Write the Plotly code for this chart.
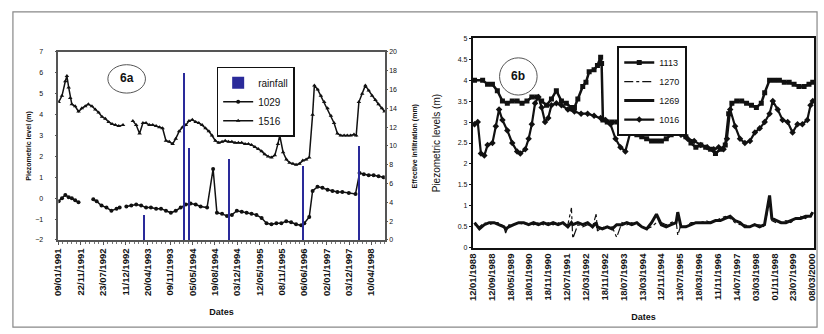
import plotly.graph_objects as go

# ---------------- Panel 6a data ----------------
a_ticks = ["09/01/1991", "22/11/1991", "23/07/1992", "11/12/1992", "20/04/1993",
           "09/11/1993", "05/05/1994", "19/08/1994", "03/12/1994", "12/05/1995",
           "08/11/1995", "06/06/1996", "02/01/1997", "03/12/1997", "10/04/1998"]

a_1029_x = [0.1, 1.6, 3.1, 4.6, 6.0, 7.5, 9.0, 12.0, 15.6, 17.1, 19.3, 21.5, 23.7, 26.0, 27.4,
            29.0, 30.4, 32.6, 34.8, 37.0, 39.2, 41.4, 43.7, 45.9, 48.1, 50.3, 52.5, 54.7, 57.0,
            59.1, 61.4, 63.6, 66.5, 69.2, 70.9, 73.2, 75.4, 77.6, 79.8, 82.0, 84.2, 86.4, 88.6,
            90.9, 93.1, 95.3, 97.5, 99.7, 101.9, 104.1, 106.3, 108.6, 110.0, 112.2, 113.7, 115.9,
            118.1, 120.4, 122.6, 124.8, 127.0, 129.9, 132.9, 134.7, 136.6, 138.8, 141.0, 143.2, 145.4]
a_1029_y = [-0.15, 0.0, 0.15, 0.05, 0.0, -0.1, -0.2, None, -0.05, -0.15, -0.35, -0.45, -0.6, -0.5, -0.45,
            None, -0.4, -0.35, -0.3, -0.35, -0.45, -0.45, -0.5, -0.5, -0.6, -0.7, -0.6, -0.45, -0.3,
            -0.25, -0.3, -0.4, -0.45, 1.4, -0.7, -0.75, -0.85, -0.8, -0.6, -0.65, -0.7, -0.75, -0.8,
            -0.95, -1.2, -1.25, -1.2, -1.2, -1.1, -1.15, -1.25, -1.3, -1.2, -0.9, 0.35, 0.55,
            0.5, 0.4, 0.35, 0.3, 0.3, 0.25, 0.2, 1.2, 1.15, 1.1, 1.1, 1.05, 1.0]

a_1516_x = [0.1, 1.6, 3.1, 3.8, 4.6, 5.3, 6.0, 7.5, 9.0, 10.5, 12.0, 13.4, 15.0, 16.5, 18.0, 19.5,
            21.0, 22.5, 24.0, 25.5, 27.0, 28.9, 31.0, 33.3, 34.8, 36.3, 37.8, 39.2, 40.7, 42.2,
            43.7, 45.2, 46.6, 48.1, 49.6, 51.1, 52.5, 54.0, 55.5, 57.0, 58.4, 59.9, 61.4, 62.8,
            64.3, 65.8, 67.3, 68.7, 70.2, 71.7, 73.2, 74.6, 76.1, 77.6, 79.0, 80.5, 82.0, 83.5,
            85.0, 86.4, 87.9, 89.4, 90.9, 92.3, 93.8, 95.3, 96.8, 98.2, 99.0, 100.5, 102.0, 103.4,
            104.9, 106.3, 107.8, 109.3, 110.8, 112.2, 113.7, 114.5, 116.0, 117.4, 118.9, 120.4,
            121.9, 123.3, 124.8, 126.3, 127.8, 129.2, 130.7, 132.2, 133.2, 134.4, 135.9, 137.3,
            138.8, 140.3, 141.8, 143.2, 144.7, 145.9]
a_1516_y = [4.6, 4.9, 5.6, 5.85, 5.3, 4.8, 4.5, 4.4, 4.15, 4.3, 4.4, 4.5, 4.4, 4.25, 4.1, 3.9,
            3.8, 3.65, 3.55, 3.5, 3.45, 3.5, None, 3.7, 3.5, 3.1, 3.6, 3.6, 3.5, 3.5,
            3.45, 3.4, 3.35, 2.75, 2.7, 2.6, 2.85, 3.2, 3.4, 3.5, 3.7, 3.75, 3.65, 3.6,
            3.5, 3.35, 3.2, 3.0, 2.75, 2.65, 2.7, 2.75, 2.7, 2.7, 2.65, 2.65, 2.65, 2.6,
            2.6, 2.55, 2.45, 2.35, 2.25, 2.1, 2.0, 1.95, 2.05, 2.6, 3.0, 2.2, 1.85, 1.7,
            1.65, 1.6, 1.65, 1.8, 1.85, 1.95, 4.0, 5.4, 5.2, 4.9, 4.6, 4.3,
            3.95, 3.6, 3.1, 3.0, 3.0, 3.0, 3.0, 3.05, 3.0, 4.6, 5.0, 5.4,
            5.15, 4.9, 4.7, 4.5, 4.3, 4.15]

rain_x = [38.5, 56.2, 58.7, 76.5, 109.7, 134.8]
rain_y = [2.7, 17.8, 9.8, 8.6, 7.9, 10.0]

# ---------------- Panel 6b data ----------------
b_ticks = ["12/01/1988", "12/09/1988", "18/05/1989", "18/01/1990", "18/11/1990",
           "12/07/1991", "12/03/1992", "18/11/1992", "18/07/1993", "13/03/1994",
           "12/11/1994", "13/07/1995", "18/03/1996", "11/11/1996", "14/07/1997",
           "03/03/1998", "01/11/1998", "23/07/1999", "08/03/2000"]

b_1113_x = [0.9, 5.2, 7.8, 10.4, 13.0, 15.7, 18.3, 20.9, 23.5, 26.1, 28.7, 31.3, 33.9, 36.5,
            39.1, 41.7, 44.3, 47.0, 49.6, 52.2, 53.9, 55.7, 58.3, 60.0, 61.7, 64.3, 66.1, 67.8,
            68.3, 69.0, 71.3, 73.9, 76.5, 79.1, 81.7, 84.3, 87.0, 89.6, 92.2, 94.8, 97.4, 100.0,
            102.6, 105.2, 107.8, 110.4, 113.0, 115.7, 118.3, 120.9, 123.5, 126.1, 128.7, 131.3,
            133.9, 135.7, 137.4, 140.0, 142.6, 145.2, 147.8, 150.4, 153.0, 154.8, 157.4, 160.0,
            162.6, 165.2, 167.8, 170.4, 173.0, 175.7, 178.3, 180.3]
b_1113_y = [4.0, 4.0, 3.9, 3.9, 3.75, 3.5, 3.45, 3.5, 3.5, 3.45, 3.5, 3.6, 3.6, 3.5,
            3.4, 3.55, 3.75, 3.5, 3.45, 3.35, 3.35, 3.55, 3.85, 3.95, 4.2, 4.25, 4.35, 4.55,
            4.4, 3.05, 3.0, 3.0, 3.0, 3.0, 2.8, 2.75, 2.7, 2.65, 2.6, 2.55, 2.55, 2.55,
            2.6, 2.7, 2.9, 2.85, 2.65, 2.5, 2.4, 2.45, 2.4, 2.35, 2.25, 2.35,
            2.45, 3.2, 3.45, 3.5, 3.5, 3.45, 3.4, 3.35, 3.45, 3.7, 4.0, 4.0,
            4.0, 3.95, 3.95, 3.9, 3.85, 3.85, 3.9, 3.95]

b_1016_x = [0.9, 2.6, 4.3, 6.1, 7.8, 10.4, 12.2, 13.9, 15.7, 18.3, 20.9, 23.5, 25.2, 27.8,
            29.6, 31.3, 33.0, 34.8, 36.5, 38.3, 40.0, 41.7, 44.3, 47.0, 50.4, 53.9, 57.4, 60.9,
            64.3, 67.8, 70.4, 73.0, 75.7, 78.3, 80.9, 83.5, 86.1, 89.6, 93.0, 96.5, 100.0, 103.5,
            107.0, 110.4, 113.9, 117.4, 120.9, 124.3, 127.8, 130.4, 133.0, 134.8, 136.5, 139.1,
            141.7, 144.3, 147.0, 149.6, 152.2, 154.8, 157.4, 159.1, 161.7, 164.3, 167.0, 169.6,
            172.2, 174.8, 177.4, 179.1, 180.3]
b_1016_y = [2.95, 3.0, 2.25, 2.2, 2.45, 2.5, 2.9, 3.3, 3.05, 2.8, 2.5, 2.3, 2.25, 2.35,
            2.6, 2.95, 3.45, 3.6, 3.35, 3.0, 3.1, 3.4, 3.45, 3.4, 3.3, 3.25, 3.2, 3.2,
            3.15, 3.1, 3.05, 2.95, 2.6, 2.4, 2.3, 2.75, 2.9, 2.9, 2.85, 2.85, 2.8, 2.8,
            2.75, 2.7, 2.6, 2.55, 2.45, 2.4, 2.35, 2.4, 2.35, 2.6, 3.3, 2.9,
            2.6, 2.5, 2.55, 2.75, 2.85, 3.0, 3.2, 3.5, 3.3, 3.05, 3.0, 2.75,
            2.95, 2.95, 3.05, 3.4, 3.5]

b_low_x = [0.9, 3.5, 6.1, 8.7, 11.3, 13.9, 16.5, 17.4, 19.1, 21.7, 24.3, 27.0, 29.6, 32.2,
           34.8, 37.4, 40.0, 42.6, 45.2, 47.8, 50.4, 52.3, 53.0, 55.7, 58.3, 60.9, 63.5, 65.4,
           66.1, 68.7, 71.3, 73.9, 76.3, 79.1, 81.7, 84.3, 87.0, 89.6, 92.2, 94.8, 97.4, 100.0,
           102.6, 105.2, 107.8, 108.7, 110.4, 113.0, 115.7, 118.3, 120.9, 123.5, 126.1, 128.7,
           131.3, 133.9, 136.5, 139.1, 141.7, 144.3, 146.9, 149.5, 152.1, 154.7, 157.4, 158.6,
           160.9, 163.5, 166.1, 168.7, 171.3, 173.9, 176.5, 179.1, 180.3]
b_1269_y = [0.6, 0.45, 0.55, 0.6, 0.6, 0.55, 0.5, 0.45, 0.5, 0.55, 0.6, 0.6, 0.55, 0.6,
            0.55, 0.6, 0.55, 0.6, 0.55, 0.6, 0.5, 0.6, 0.55, 0.6, 0.55, 0.6, 0.5, 0.6,
            0.5, 0.45, 0.5, 0.45, 0.55, 0.55, 0.6, 0.55, 0.6, 0.5, 0.45, 0.6, 0.8, 0.55,
            0.5, 0.55, 0.6, 0.85, 0.5, 0.5, 0.55, 0.6, 0.6, 0.6, 0.6, 0.65,
            0.65, 0.7, 0.75, 0.65, 0.6, 0.5, 0.5, 0.55, 0.5, 0.55, 1.25, 0.7,
            0.65, 0.6, 0.6, 0.65, 0.7, 0.7, 0.75, 0.75, 0.85]
b_1270_y = [0.55, 0.5, 0.6, 0.55, 0.6, 0.6, 0.5, 0.35, 0.55, 0.55, 0.6, 0.55, 0.6, 0.55,
            0.6, 0.55, 0.6, 0.55, 0.6, 0.55, 0.55, 0.95, 0.22, 0.55, 0.5, 0.55, 0.5, 0.8,
            0.4, 0.5, 0.45, 0.5, 0.25, 0.6, 0.55, 0.6, 0.55, 0.5, 0.45, 0.5, 0.6, 0.6,
            0.55, 0.6, 0.65, 0.3, 0.55, 0.5, 0.6, 0.6, 0.6, 0.65, 0.6, 0.65,
            0.7, 0.75, 0.7, 0.6, 0.55, 0.55, 0.5, 0.55, 0.55, 0.5, 1.15, 0.65,
            0.6, 0.6, 0.65, 0.6, 0.7, 0.75, 0.7, 0.8, 0.85]

FONT = "Liberation Sans"
BLK = "#111111"

fig = go.Figure()

# Panel a
fig.add_trace(go.Bar(x=rain_x, y=rain_y, width=0.9, name="rainfall",
                     marker=dict(color="#2a2a9a", line=dict(width=0)),
                     xaxis="x", yaxis="y3", legend="legend"))
fig.add_trace(go.Scatter(x=a_1029_x, y=a_1029_y, name="1029", mode="lines+markers",
                         line=dict(color=BLK, width=1.5),
                         marker=dict(symbol="circle", size=4, color=BLK),
                         xaxis="x", yaxis="y", legend="legend"))
fig.add_trace(go.Scatter(x=a_1516_x, y=a_1516_y, name="1516", mode="lines+markers",
                         line=dict(color=BLK, width=1.5),
                         marker=dict(symbol="triangle-up", size=4, color=BLK),
                         xaxis="x", yaxis="y", legend="legend"))

# Panel b
fig.add_trace(go.Scatter(x=b_1113_x, y=b_1113_y, name="1113", mode="lines+markers",
                         line=dict(color=BLK, width=2.5),
                         marker=dict(symbol="square", size=5, color=BLK),
                         xaxis="x2", yaxis="y2", legend="legend2"))
fig.add_trace(go.Scatter(x=b_low_x, y=b_1270_y, name="1270", mode="lines",
                         line=dict(color=BLK, width=1.2, dash="dashdot"),
                         xaxis="x2", yaxis="y2", legend="legend2"))
fig.add_trace(go.Scatter(x=b_low_x, y=b_1269_y, name="1269", mode="lines",
                         line=dict(color=BLK, width=3),
                         xaxis="x2", yaxis="y2", legend="legend2"))
fig.add_trace(go.Scatter(x=b_1016_x, y=b_1016_y, name="1016", mode="lines+markers",
                         line=dict(color=BLK, width=2.2),
                         marker=dict(symbol="diamond", size=5, color=BLK),
                         xaxis="x2", yaxis="y2", legend="legend2"))

tickfont = dict(family=FONT, size=9.5, color=BLK)
a_ticktext = ["<b>%s</b>" % t for t in a_ticks]
b_ticktext = ["<b>%s</b>" % t for t in b_ticks]

fig.update_layout(
    width=824, height=334,
    margin=dict(l=0, r=0, t=0, b=0),
    paper_bgcolor="white", plot_bgcolor="white",
    font=dict(family=FONT, color=BLK),
    bargap=0,
    xaxis=dict(domain=[0.0643, 0.4648], range=[0, 146], anchor="y",
               tickmode="array", tickvals=[i * 10 for i in range(len(a_ticks))],
               ticktext=a_ticktext, tickangle=-90, tickfont=tickfont,
               showline=True, linecolor="#555", linewidth=1.5, mirror=True,
               ticks="outside", ticklen=3, tickcolor="#555",
               minor=dict(dtick=2, ticks="outside", ticklen=2, tickcolor="#777"),
               showgrid=False, zeroline=False,
               title=dict(text="<b>Dates</b>", font=dict(size=9, family=FONT), standoff=14)),
    yaxis=dict(domain=[0.2784, 0.8533], range=[-2, 7], dtick=1, anchor="x",
               tickfont=dict(family=FONT, size=7, color=BLK), ticklabelstandoff=10,
               showline=True, linecolor="#555", linewidth=1.5, mirror=True,
               ticks="outside", ticklen=2, tickcolor="#555",
               showgrid=False, zeroline=False),
    yaxis3=dict(overlaying="y", side="right", anchor="x", range=[0, 20], dtick=2,
                tickfont=dict(family=FONT, size=7, color=BLK),
                showline=False, ticks="outside", ticklen=2, tickcolor="#555",
                showgrid=False, zeroline=False),
    xaxis2=dict(domain=[0.5728, 0.9915], range=[0, 181], anchor="y2",
                tickmode="array", tickvals=[i * 10 for i in range(len(b_ticks))],
                ticktext=b_ticktext, tickangle=-90, tickfont=tickfont,
                showline=True, linecolor=BLK, linewidth=2, mirror=True,
                ticks="", showgrid=False, zeroline=False,
                title=dict(text="<b>Dates</b>", font=dict(size=9, family=FONT), standoff=14)),
    yaxis2=dict(domain=[0.2545, 0.8952], range=[0, 5], dtick=0.5, anchor="x2",
                tickfont=dict(family=FONT, size=7, color=BLK),
                showline=True, linecolor=BLK, linewidth=2, mirror=True,
                ticks="outside", ticklen=2, tickcolor=BLK,
                showgrid=False, zeroline=False),
    legend=dict(x=213/824, y=1-64/334, xanchor="left", yanchor="top",
                bgcolor="white", bordercolor=BLK, borderwidth=1.5,
                font=dict(size=10, family=FONT), tracegroupgap=0, itemwidth=30,
                traceorder="normal"),
    legend2=dict(x=618/824, y=1-43/334, xanchor="left", yanchor="top",
                 bgcolor="white", bordercolor=BLK, borderwidth=2,
                 font=dict(size=9, family=FONT), tracegroupgap=0, itemwidth=30,
                 traceorder="normal"),
    shapes=[
        dict(type="rect", xref="paper", yref="paper", x0=7/824, x1=820/824,
             y0=1-330/334, y1=1-8/334, line=dict(color="#888", width=1.2)),
        dict(type="circle", xref="paper", yref="paper", x0=103/824, x1=141/824,
             y0=1-91/334, y1=1-62/334, line=dict(color="#555", width=1)),
        dict(type="circle", xref="paper", yref="paper", x0=499/824, x1=537/824,
             y0=1-93/334, y1=1-55/334, line=dict(color="#555", width=1)),
    ],
    annotations=[
        dict(text="<b>6a</b>", xref="paper", yref="paper", x=122/824, y=1-76/334,
             xanchor="center", yanchor="middle",
             showarrow=False, font=dict(size=12, family=FONT, color=BLK)),
        dict(text="<b>6b</b>", xref="paper", yref="paper", x=518/824, y=1-74/334,
             xanchor="center", yanchor="middle",
             showarrow=False, font=dict(size=12, family=FONT, color=BLK)),
        dict(text="<b>Piezometric level (m)</b>", xref="paper", yref="paper",
             x=23/824, y=1-145/334, textangle=-90, xanchor="center", yanchor="middle",
             showarrow=False, font=dict(size=7, family=FONT, color=BLK)),
        dict(text="<b>Effective infiltration (mm)</b>", xref="paper", yref="paper",
             x=413/824, y=1-145/334, textangle=-90, xanchor="center", yanchor="middle",
             showarrow=False, font=dict(size=7, family=FONT, color=BLK)),
        dict(text="Piezometric levels (m)", xref="paper", yref="paper",
             x=435/824, y=1-142/334, textangle=-90, xanchor="center", yanchor="middle",
             showarrow=False, font=dict(size=10, family=FONT, color=BLK)),
    ],
)

fig.write_html("out.html", config={"displayModeBar": False},
               post_script="document.body.style.margin='0';document.body.style.padding='0';")
